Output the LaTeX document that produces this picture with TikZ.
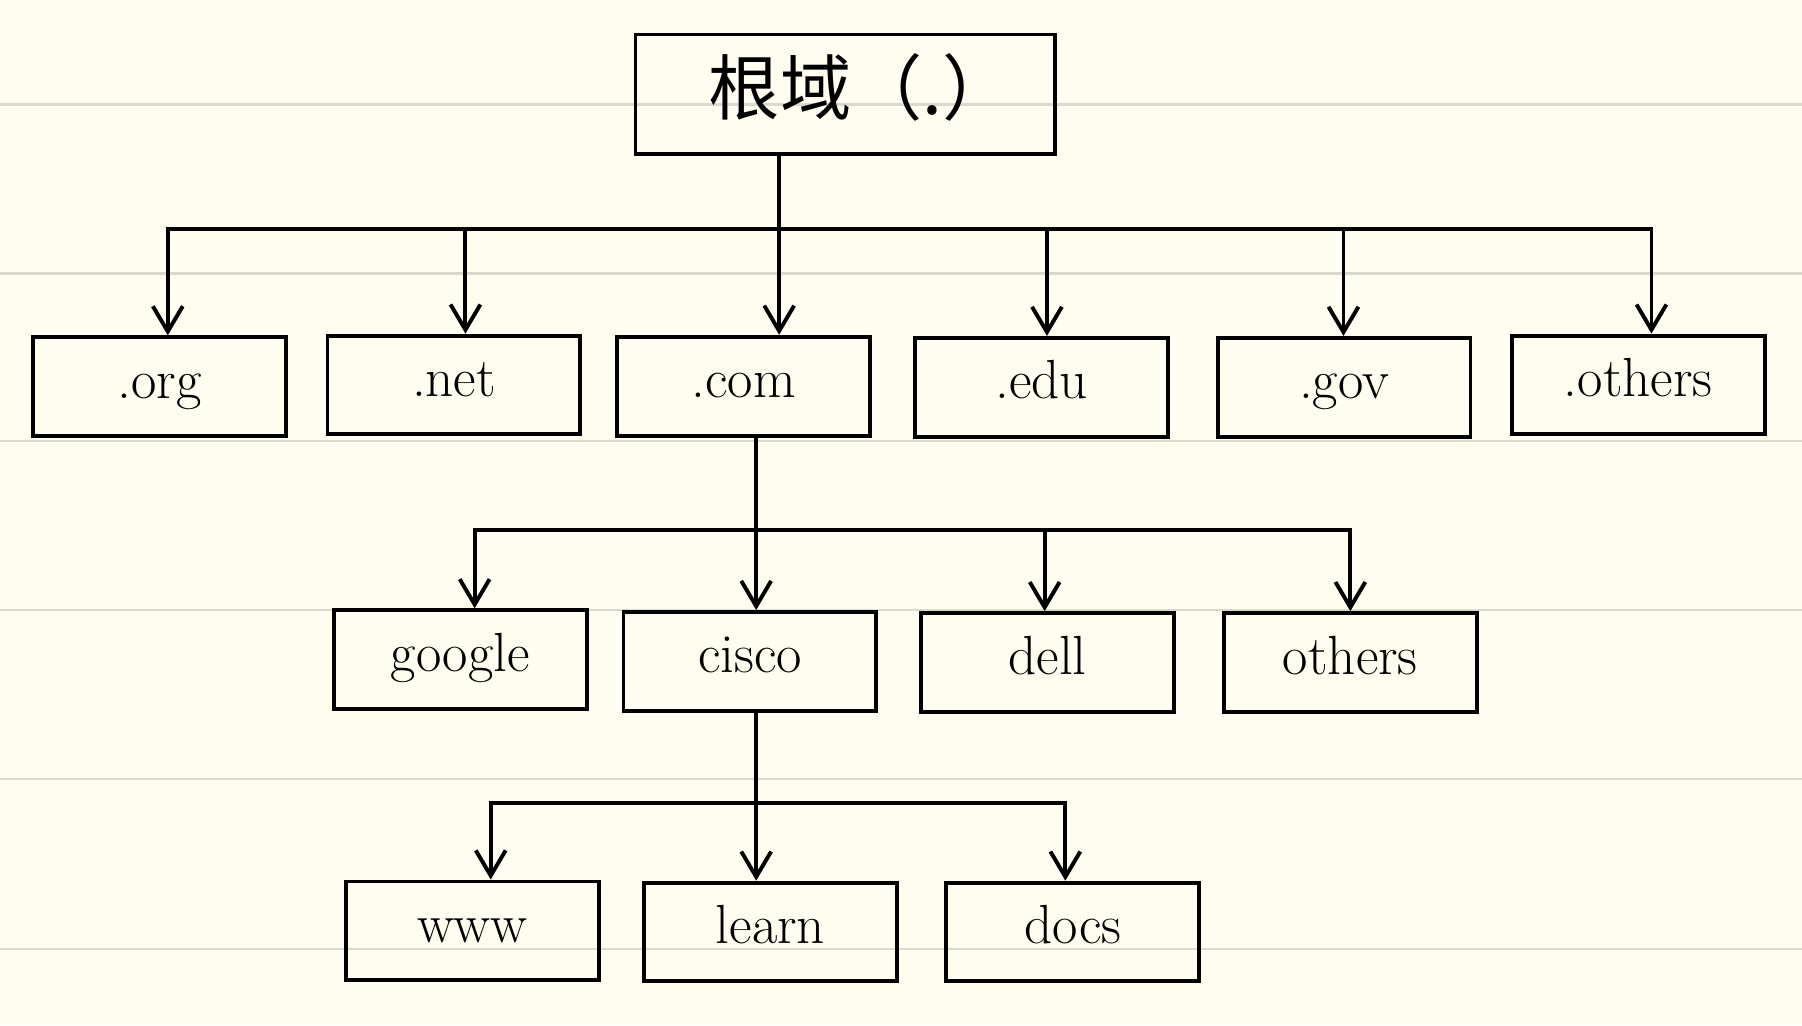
\documentclass[tikz,border=0pt]{standalone}
\usepackage{fontspec}
\newfontfamily\cjk{Noto Sans CJK SC}
\usetikzlibrary{arrows.meta}
\definecolor{paper}{HTML}{FEFDF0}
\definecolor{rule}{HTML}{DAD9CD}
\tikzset{
  box/.style={draw=black, line width=1.7pt, minimum width=110pt, minimum height=43pt,
    inner sep=0pt, text height=11pt, text depth=1pt, font=\fontsize{24}{28}\selectfont},
  rootbox/.style={box, minimum width=182.5pt, minimum height=52pt, text height=22pt, text depth=4pt,
    font=\cjk\fontsize{31}{36}\selectfont},
  conn/.style={line width=1.7pt, line cap=rect},
  arr/.style={line width=1.7pt, -{Straight Barb[length=11pt,width=13pt]}},
  ruling/.style={rule, line width=1pt}
}
\begin{document}
\begin{tikzpicture}[x=0.5pt,y=-0.5pt]
\fill[paper] (0,0) rectangle (1568,892);
\useasboundingbox (0,0) rectangle (1568,892);
\foreach \yy in {91,238,384,531,678,826} \draw[ruling] (0,\yy) -- (1568,\yy);

% root
\node[rootbox] (root) at (735.5,82) {\hspace{14pt}根域（.）};

% level 1
\node[box] (org) at (139,336.5) {.org};
\node[box] (net) at (395,335) {.net};
\node[box] (com) at (647,336) {.com};
\node[box] (edu) at (906.5,337) {.edu};
\node[box] (gov) at (1169.5,337) {.gov};
\node[box] (oth1) at (1425.5,335) {.others};

% level 2
\node[box] (google) at (400.5,574) {google};
\node[box] (cisco) at (652.5,575.5) {cisco};
\node[box] (dell) at (911.5,576.5) {dell};
\node[box] (oth2) at (1175,576.5) {others};

% level 3
\node[box] (www) at (411,810) {www};
\node[box] (learn) at (670.5,811) {learn};
\node[box] (docs) at (933.5,811) {docs};

% bus 1
\coordinate (s1) at (678,199);
\coordinate (a1) at (146,199);
\coordinate (a2) at (405,199);
\coordinate (a4) at (911,199);
\coordinate (a5) at (1169,199);
\coordinate (a6) at (1437,199);
\draw[conn] (s1 |- root.south) -- (s1);
\draw[conn] (a1) -- (a6);
\draw[arr] (a1) -- (a1 |- org.north);
\draw[arr] (a2) -- (a2 |- net.north);
\draw[arr] (s1) -- (s1 |- com.north);
\draw[arr] (a4) -- (a4 |- edu.north);
\draw[arr] (a5) -- (a5 |- gov.north);
\draw[arr] (a6) -- (a6 |- oth1.north);

% bus 2
\coordinate (s2) at (658,461);
\coordinate (b1) at (413,461);
\coordinate (b3) at (909,461);
\coordinate (b4) at (1175,461);
\draw[conn] (s2 |- com.south) -- (s2);
\draw[conn] (b1) -- (b4);
\draw[arr] (b1) -- (b1 |- google.north);
\draw[arr] (s2) -- (s2 |- cisco.north);
\draw[arr] (b3) -- (b3 |- dell.north);
\draw[arr] (b4) -- (b4 |- oth2.north);

% bus 3
\coordinate (s3) at (658,699);
\coordinate (c1) at (427,699);
\coordinate (c3) at (927,699);
\draw[conn] (s3 |- cisco.south) -- (s3);
\draw[conn] (c1) -- (c3);
\draw[arr] (c1) -- (c1 |- www.north);
\draw[arr] (s3) -- (s3 |- learn.north);
\draw[arr] (c3) -- (c3 |- docs.north);
\end{tikzpicture}
\end{document}
